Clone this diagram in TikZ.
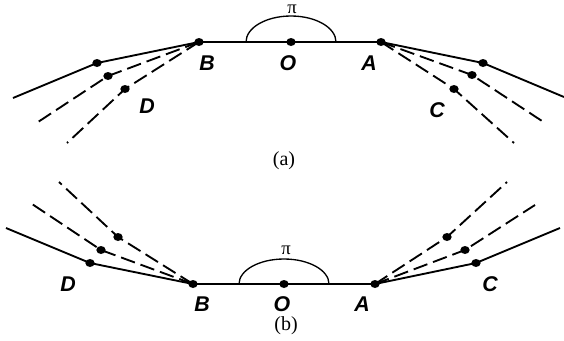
\documentclass[tikz,border=0pt]{standalone}
\usepackage{fontspec}
\setmainfont{Liberation Serif}
\setsansfont{Liberation Sans}
\usetikzlibrary{calc,shapes.geometric}

\begin{document}
\begin{tikzpicture}[x=0.75pt,y=0.75pt,yscale=-1,xscale=1,
  edge/.style={line width=1.4},
  dashedge/.style={line width=1.4, dash pattern=on 11pt off 4.5pt},
  pt/.style={ellipse, fill=black, inner sep=0pt, minimum width=7pt, minimum height=6pt},
  lbl/.style={font=\sffamily\bfseries\itshape\fontsize{16}{16}\selectfont},
  captxt/.style={font=\fontsize{15}{15}\selectfont},
  pitxt/.style={inner sep=1pt, font=\fontsize{14}{14}\selectfont}]
\path[use as bounding box] (0,0) rectangle (564,340);

%%%%%%%%%%%%%%%% (a)
% Points
\node[pt] (Ba) at (199,42) {};
\node[pt] (Oa) at (291,42) {};
\node[pt] (Aa) at (381,42) {};
\node[pt] (Da1) at (97,63) {};
\node[pt] (Da2) at (108,76) {};
\node[pt] (Da3) at (125,89) {};
\node[pt] (Ca1) at (483,63) {};
\node[pt] (Ca2) at (472,75) {};
\node[pt] (Ca3) at (454,89) {};
\coordinate (Ea1) at (13,98);
\coordinate (Ea2) at (38,122);
\coordinate (Ea3) at (67,143);
\coordinate (Fa1) at (564,97);
\coordinate (Fa2) at (542,121);
\coordinate (Fa3) at (514,143);

%Straight Lines
\draw[edge] (Ba.center) -- (Aa.center);
\draw[edge] (Ba.center) -- (Da1.center) -- (Ea1);
\draw[dashedge] (Ba.center) -- (Da2.center) -- (Ea2);
\draw[dashedge] (Ba.center) -- (Da3.center) -- (Ea3);
\draw[edge] (Aa.center) -- (Ca1.center) -- (Fa1);
\draw[dashedge] (Aa.center) -- (Ca2.center) -- (Fa2);
\draw[dashedge] (Aa.center) -- (Ca3.center) -- (Fa3);
%Shape: Arc
\draw[line width=1] (Oa.center) ++(-45,0) arc (180:360:45 and 26);

% Text Node
\node[pitxt] (pia) at (292,9) {π};
\node[lbl] (Bla) at (207,63) {B};
\node[lbl] (Ola) at (288,63) {O};
\node[lbl] (Ala) at (369,63) {A};
\node[lbl] (Dla) at (147,106) {D};
\node[lbl] (Cla) at (437,110) {C};
\node[captxt] (capa) at (284,161) {(a)};

%%%%%%%%%%%%%%%% (b)
% Points
\node[pt] (Bb) at (193,284) {};
\node[pt] (Ob) at (284,284) {};
\node[pt] (Ab) at (375,284) {};
\node[pt] (Db1) at (90,263) {};
\node[pt] (Db2) at (101,250) {};
\node[pt] (Db3) at (118,237) {};
\node[pt] (Cb1) at (476,263) {};
\node[pt] (Cb2) at (465,250) {};
\node[pt] (Cb3) at (447,237) {};
\coordinate (Eb1) at (6,228);
\coordinate (Eb2) at (32,204);
\coordinate (Eb3) at (59,182);
\coordinate (Fb1) at (560,228);
\coordinate (Fb2) at (535,205);
\coordinate (Fb3) at (507,182);

%Straight Lines
\draw[edge] (Bb.center) -- (Ab.center);
\draw[edge] (Bb.center) -- (Db1.center) -- (Eb1);
\draw[dashedge] (Bb.center) -- (Db2.center) -- (Eb2);
\draw[dashedge] (Bb.center) -- (Db3.center) -- (Eb3);
\draw[edge] (Ab.center) -- (Cb1.center) -- (Fb1);
\draw[dashedge] (Ab.center) -- (Cb2.center) -- (Fb2);
\draw[dashedge] (Ab.center) -- (Cb3.center) -- (Fb3);
%Shape: Arc
\draw[line width=1] (Ob.center) ++(-45,0) arc (180:360:45 and 25);

% Text Node
\node[pitxt] (pib) at (286,250) {π};
\node[lbl] (Blb) at (202,304) {B};
\node[lbl] (Olb) at (282,304) {O};
\node[lbl] (Alb) at (362,304) {A};
\node[lbl] (Dlb) at (68,284) {D};
\node[lbl] (Clb) at (490,284) {C};
\node[captxt] (capb) at (286,326) {(b)};

\end{tikzpicture}
\end{document}
